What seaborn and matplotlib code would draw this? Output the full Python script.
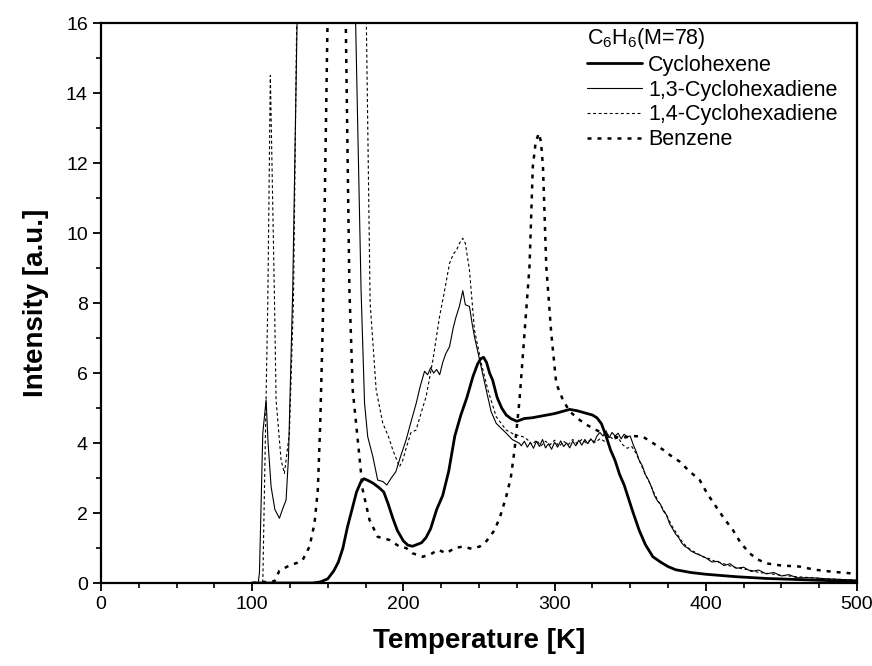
import numpy as np
import pandas as pd
import matplotlib
matplotlib.use("Agg")
import matplotlib.pyplot as plt
from matplotlib.ticker import MultipleLocator
import seaborn as sns

# ---- TPD traces of mass 78 (C6H6) after adsorption of each C6 ring ----
series_names = ["Cyclohexene", "1,3-Cyclohexadiene", "1,4-Cyclohexadiene", "Benzene"]

t_chx = [100, 140, 145, 150, 154, 157, 160, 163, 166, 169, 172, 174, 177, 180, 184,
         187, 190, 193, 196, 200, 203, 206, 209, 212, 215, 218, 222, 226, 230, 234,
         238, 242, 246, 249, 251, 253, 255, 257, 259, 262, 265, 268, 271, 275, 280,
         285, 290, 295, 300, 305, 310, 315, 320, 325, 328, 331, 334, 337, 340, 343,
         346, 349, 352, 356, 360, 365, 370, 375, 380, 390, 400, 420, 440, 460, 480, 500]
i_chx = [0.0, 0.0, 0.03, 0.12, 0.35, 0.6, 1.0, 1.6, 2.1, 2.6, 2.9, 2.98, 2.92, 2.85, 2.72,
         2.6, 2.25, 1.85, 1.5, 1.2, 1.08, 1.05, 1.1, 1.15, 1.3, 1.55, 2.1, 2.5, 3.2, 4.2,
         4.8, 5.3, 5.9, 6.25, 6.4, 6.45, 6.3, 6.0, 5.8, 5.3, 5.0, 4.8, 4.7, 4.62, 4.7,
         4.72, 4.76, 4.8, 4.84, 4.9, 4.96, 4.92, 4.86, 4.8, 4.72, 4.55, 4.2, 3.8, 3.5, 3.1,
         2.8, 2.4, 2.0, 1.5, 1.1, 0.75, 0.6, 0.47, 0.38, 0.3, 0.25, 0.18, 0.13, 0.1, 0.07, 0.05]

t_13 = [100, 104, 104.8, 107, 109.2, 110.5, 112.5, 115, 118, 120, 122.4, 124, 126.8, 131,
        150, 167, 172, 174.3, 176.4, 179.8, 183, 186.4, 189, 192, 195, 198, 201.8, 205,
        208.5, 211, 214, 216, 218, 220, 222, 224, 226, 228, 230.5, 233, 234.8, 237, 239.3,
        241, 243.7, 245.5, 247, 250.4, 254.8, 258, 261.4, 264, 268, 272, 276.8,
        278, 280, 282, 284, 286, 288, 290, 292, 294, 296, 298, 300, 302, 304, 306, 308,
        310, 312, 314, 316, 318, 320, 322, 324, 326, 328, 330, 332, 334, 336, 338, 340,
        342, 344, 346, 348, 350, 352, 354, 356, 358, 360, 362, 364, 366, 368, 370, 372,
        374, 376, 378, 380, 382, 384, 386, 388, 390, 393, 396, 400, 404, 408, 412, 416,
        420, 425, 430, 435, 440, 445, 450, 455, 460, 470, 480, 490, 500]
i_13 = [0.0, 0.0, 0.3, 4.28, 5.23, 4.0, 2.75, 2.1, 1.85, 2.1, 2.37, 3.6, 8.37, 19.5,
        35.0, 19.0, 8.37, 5.14, 4.18, 3.61, 2.94, 2.9, 2.8, 3.0, 3.18, 3.6, 4.09, 4.6,
        5.14, 5.6, 6.05, 5.95, 6.15, 6.0, 6.1, 5.95, 6.3, 6.55, 6.75, 7.3, 7.6, 7.9, 8.35,
        7.95, 7.9, 7.4, 7.04, 6.37, 5.51, 4.9, 4.56, 4.45, 4.28, 4.1, 3.99,
        3.92, 4.05, 3.88, 4.02, 3.85, 4.05, 3.9, 4.1, 3.86, 3.98, 3.82, 4.02, 3.88, 4.06, 3.9, 4.0,
        3.86, 4.05, 3.92, 4.08, 3.94, 4.1, 3.98, 4.12, 4.0, 4.2, 4.3, 4.2, 4.35, 4.15, 4.3, 4.2,
        4.28, 4.12, 4.25, 4.18, 4.2, 3.95, 3.75, 3.5, 3.35, 3.1, 2.95, 2.75, 2.5, 2.35, 2.25, 2.05,
        1.95, 1.7, 1.55, 1.4, 1.3, 1.15, 1.05, 1.0, 0.92, 0.85, 0.8, 0.72, 0.6, 0.62, 0.5, 0.55,
        0.42, 0.45, 0.33, 0.37, 0.26, 0.3, 0.2, 0.24, 0.15, 0.15, 0.12, 0.1, 0.08]

t_14 = [100, 107, 110.3, 112, 114.7, 115.8, 119.1, 121.3, 124.6, 127.3, 131, 152, 175.5,
        178, 182, 186.4, 190, 193, 197.4, 199.5, 201.8, 205, 208.4, 212, 215, 219.5,
        223.9, 227, 230.5, 233, 235, 237, 239.3, 241, 243.7, 247, 251.5, 255.9, 261.4,
        268, 273, 279, 282, 285, 288, 291, 294, 297, 300, 303, 306, 309, 312, 315, 318,
        321, 324, 327, 330, 333, 336, 339, 342, 345, 348, 351, 354, 357, 360, 363, 366,
        369, 372, 375, 378, 381, 384, 387, 390, 394, 398, 402, 406, 410, 415, 420, 425,
        430, 435, 440, 450, 460, 470, 480, 490, 500]
i_14 = [0.0, 0.0, 8.0, 14.5, 8.2, 5.23, 3.51, 3.13, 4.28, 8.09, 22.0, 38.0, 16.0,
        8.0, 5.51, 4.56, 4.2, 3.8, 3.32, 3.5, 3.85, 4.3, 4.37, 4.9, 5.32, 6.37,
        7.61, 8.3, 9.13, 9.4, 9.5, 9.7, 9.85, 9.7, 8.94, 7.23, 6.28, 5.51, 4.75,
        4.37, 4.25, 4.18, 4.1, 3.95, 4.08, 3.92, 4.05, 3.95, 4.08, 3.9, 4.05, 3.95, 4.1, 3.98, 4.1,
        4.0, 4.1, 4.02, 4.12, 4.05, 4.2, 4.1, 4.15, 3.95, 3.85, 3.9, 3.7, 3.4, 3.1, 2.85, 2.55,
        2.3, 2.1, 1.85, 1.6, 1.4, 1.2, 1.05, 0.95, 0.85, 0.75, 0.7, 0.62, 0.58, 0.5, 0.44, 0.4,
        0.36, 0.3, 0.28, 0.22, 0.18, 0.15, 0.12, 0.1, 0.08]

t_bz = [100, 114.7, 118, 124.6, 130, 133.4, 137.9, 141.2, 143.4, 145, 146.7, 152, 156,
        160, 164.3, 166.5, 169.8, 173.1, 177.6, 183, 190.8, 197.4, 201.8, 206, 212.8,
        218, 223, 228.3, 234, 239.3, 245, 250.4, 255, 260.3, 264, 268, 271, 273.5, 276.8,
        280.1, 283.4, 285.6, 287.5, 289.6, 291, 292.3, 294.5, 297.8, 301.1, 305.5, 310,
        316.5, 322, 327.6, 333, 338.6, 345, 352, 358.4, 365, 372, 378, 382.7, 389, 396,
        401, 406.8, 412, 418, 423, 429, 434, 440, 450, 462, 472, 484, 495, 500]
i_bz = [0.0, 0.05, 0.35, 0.5, 0.58, 0.66, 1.04, 1.7, 2.66, 4.56, 7.42, 22.0, 30.0,
        22.0, 8.37, 5.51, 4.09, 2.66, 1.8, 1.32, 1.23, 1.04, 1.0, 0.85, 0.75,
        0.82, 0.95, 0.85, 1.0, 1.04, 0.98, 1.04, 1.2, 1.51, 1.9, 2.47, 3.0, 3.8, 5.23,
        7.14, 9.04, 11.9, 12.6, 12.85, 12.6, 11.9, 9.04, 7.13, 5.7, 5.23, 4.9,
        4.66, 4.5, 4.37, 4.25, 4.18, 4.15, 4.2, 4.18, 4.0, 3.8, 3.6, 3.47, 3.2, 2.94,
        2.55, 2.18, 1.85, 1.51, 1.15, 0.85, 0.68, 0.56, 0.5, 0.47, 0.38, 0.32, 0.28, 0.25]

x_ticks = [0, 100, 200, 300, 400, 500]
y_ticks = [0, 2, 4, 6, 8, 10, 12, 14, 16]

frames = []
for name, t, v in zip(series_names, [t_chx, t_13, t_14, t_bz], [i_chx, i_13, i_14, i_bz]):
    frames.append(pd.DataFrame({"T": t, "I": v, "series": name}))
df = pd.concat(frames, ignore_index=True)

sns.set_style("ticks")
plt.rcParams["font.family"] = ["Liberation Sans", "DejaVu Sans"]
plt.rcParams["mathtext.fontset"] = "custom"
plt.rcParams["mathtext.rm"] = "Liberation Sans"
plt.rcParams["mathtext.it"] = "Liberation Sans:italic"
plt.rcParams["mathtext.bf"] = "Liberation Sans:bold"
for key in ["text.color", "axes.labelcolor", "xtick.color", "ytick.color",
            "axes.edgecolor", "legend.labelcolor"]:
    plt.rcParams[key] = "black"

fig = plt.figure(figsize=(8.72, 6.66), dpi=100)
ax = fig.add_axes([101 / 872, 1 - 583 / 666, 756 / 872, 560 / 666])

line_style = {
    "Cyclohexene": dict(lw=2.0, linestyle="-"),
    "1,3-Cyclohexadiene": dict(lw=0.8, linestyle="-"),
    "1,4-Cyclohexadiene": dict(lw=0.8, linestyle=(0, (2.7, 2.3))),
    "Benzene": dict(lw=1.8, linestyle=(0, (1.6, 2.4))),
}

for name in series_names:
    sub = df[df["series"] == name]
    sns.lineplot(data=sub, x="T", y="I", ax=ax, color="black", label=name,
                 estimator=None, sort=False, **line_style[name])

ax.set_xlim(0, 500)
ax.set_ylim(0, 16)
ax.set_xticks(x_ticks)
ax.set_yticks(y_ticks)
ax.xaxis.set_minor_locator(MultipleLocator(25))
ax.yaxis.set_minor_locator(MultipleLocator(1))
ax.tick_params(which="major", direction="out", length=6, width=1.3, labelsize=14,
               top=False, right=False, color="black", labelcolor="black")
ax.tick_params(which="minor", direction="out", length=3.5, width=1.2,
               top=False, right=False, color="black")
for sp in ax.spines.values():
    sp.set_linewidth(1.6)
    sp.set_color("black")
    sp.set_visible(True)

ax.set_xlabel("Temperature [K]", fontsize=20, fontweight="bold", labelpad=11,
              color="black")
ax.set_ylabel("Intensity [a.u.]", fontsize=20, fontweight="bold", labelpad=12,
              color="black")

leg = ax.legend(title=r"C$_6$H$_6$(M=78)", loc="upper left",
                bbox_to_anchor=(0.6425, 0.995), frameon=False, fontsize=15.5,
                title_fontsize=15.5, handlelength=2.55, handletextpad=0.3,
                labelspacing=0.18, borderaxespad=0, borderpad=0, alignment="left")
leg.get_title().set_color("black")
for txt in leg.get_texts():
    txt.set_color("black")

fig.savefig("out.png", dpi=100)
